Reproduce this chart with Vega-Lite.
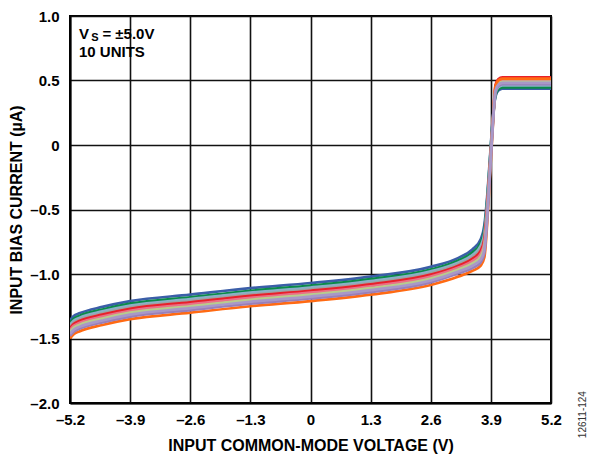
{
  "$schema": "https://vega.github.io/schema/vega-lite/v6.json",
  "width": 481,
  "height": 387,
  "autosize": {"type": "none"},
  "padding": {"left": 70, "top": 16, "right": 43, "bottom": 54},
  "background": "white",
  "config": {
    "view": {"stroke": "black", "strokeWidth": 2},
    "font": "Liberation Sans",
    "axis": {
      "labelFont": "Liberation Sans",
      "labelFontWeight": "bold",
      "labelFontSize": 15,
      "labelColor": "black",
      "titleFont": "Liberation Sans",
      "titleFontWeight": "bold",
      "titleFontSize": 16,
      "titleColor": "black",
      "ticks": false,
      "domainColor": "black",
      "domainWidth": 2,
      "gridColor": "#111111",
      "gridWidth": 1.6,
      "gridOpacity": 1
    }
  },
  "datasets": {
    "curves": [
      {"unit":"U1","v":-5.2,"i":-1.36},{"unit":"U1","v":-5.12,"i":-1.325},{"unit":"U1","v":-5.0,"i":-1.305},{"unit":"U1","v":-4.5,"i":-1.255},{"unit":"U1","v":-3.9,"i":-1.21},{"unit":"U1","v":-2.6,"i":-1.16},{"unit":"U1","v":-1.3,"i":-1.11},{"unit":"U1","v":0,"i":-1.07},{"unit":"U1","v":1.3,"i":-1.02},{"unit":"U1","v":2.6,"i":-0.945},{"unit":"U1","v":3.2,"i":-0.875},{"unit":"U1","v":3.5,"i":-0.81},{"unit":"U1","v":3.68,"i":-0.73},{"unit":"U1","v":3.76,"i":-0.62},{"unit":"U1","v":3.82,"i":-0.40},{"unit":"U1","v":3.88,"i":-0.10},{"unit":"U1","v":3.94,"i":0.20},{"unit":"U1","v":4.0,"i":0.377},{"unit":"U1","v":4.06,"i":0.422},{"unit":"U1","v":4.15,"i":0.437},{"unit":"U1","v":5.2,"i":0.437},
      {"unit":"U2","v":-5.2,"i":-1.38},{"unit":"U2","v":-5.12,"i":-1.347},{"unit":"U2","v":-5.0,"i":-1.325},{"unit":"U2","v":-4.5,"i":-1.275},{"unit":"U2","v":-3.9,"i":-1.23},{"unit":"U2","v":-2.6,"i":-1.18},{"unit":"U2","v":-1.3,"i":-1.13},{"unit":"U2","v":0,"i":-1.09},{"unit":"U2","v":1.3,"i":-1.04},{"unit":"U2","v":2.6,"i":-0.965},{"unit":"U2","v":3.2,"i":-0.895},{"unit":"U2","v":3.5,"i":-0.834},{"unit":"U2","v":3.68,"i":-0.76},{"unit":"U2","v":3.76,"i":-0.656},{"unit":"U2","v":3.82,"i":-0.43},{"unit":"U2","v":3.88,"i":-0.12},{"unit":"U2","v":3.94,"i":0.19},{"unit":"U2","v":4.0,"i":0.387},{"unit":"U2","v":4.06,"i":0.432},{"unit":"U2","v":4.15,"i":0.447},{"unit":"U2","v":5.2,"i":0.447},
      {"unit":"U3","v":-5.2,"i":-1.395},{"unit":"U3","v":-5.12,"i":-1.362},{"unit":"U3","v":-5.0,"i":-1.34},{"unit":"U3","v":-4.5,"i":-1.29},{"unit":"U3","v":-3.9,"i":-1.245},{"unit":"U3","v":-2.6,"i":-1.195},{"unit":"U3","v":-1.3,"i":-1.145},{"unit":"U3","v":0,"i":-1.105},{"unit":"U3","v":1.3,"i":-1.055},{"unit":"U3","v":2.6,"i":-0.98},{"unit":"U3","v":3.2,"i":-0.91},{"unit":"U3","v":3.5,"i":-0.852},{"unit":"U3","v":3.68,"i":-0.782},{"unit":"U3","v":3.76,"i":-0.683},{"unit":"U3","v":3.82,"i":-0.452},{"unit":"U3","v":3.88,"i":-0.135},{"unit":"U3","v":3.94,"i":0.182},{"unit":"U3","v":4.0,"i":0.402},{"unit":"U3","v":4.06,"i":0.447},{"unit":"U3","v":4.15,"i":0.462},{"unit":"U3","v":5.2,"i":0.462},
      {"unit":"U4","v":-5.2,"i":-1.41},{"unit":"U4","v":-5.12,"i":-1.377},{"unit":"U4","v":-5.0,"i":-1.355},{"unit":"U4","v":-4.5,"i":-1.305},{"unit":"U4","v":-3.9,"i":-1.26},{"unit":"U4","v":-2.6,"i":-1.21},{"unit":"U4","v":-1.3,"i":-1.16},{"unit":"U4","v":0,"i":-1.12},{"unit":"U4","v":1.3,"i":-1.07},{"unit":"U4","v":2.6,"i":-0.995},{"unit":"U4","v":3.2,"i":-0.925},{"unit":"U4","v":3.5,"i":-0.87},{"unit":"U4","v":3.68,"i":-0.805},{"unit":"U4","v":3.76,"i":-0.71},{"unit":"U4","v":3.82,"i":-0.475},{"unit":"U4","v":3.88,"i":-0.15},{"unit":"U4","v":3.94,"i":0.175},{"unit":"U4","v":4.0,"i":0.437},{"unit":"U4","v":4.06,"i":0.482},{"unit":"U4","v":4.15,"i":0.497},{"unit":"U4","v":5.2,"i":0.497},
      {"unit":"U5","v":-5.2,"i":-1.42},{"unit":"U5","v":-5.12,"i":-1.387},{"unit":"U5","v":-5.0,"i":-1.365},{"unit":"U5","v":-4.5,"i":-1.315},{"unit":"U5","v":-3.9,"i":-1.27},{"unit":"U5","v":-2.6,"i":-1.22},{"unit":"U5","v":-1.3,"i":-1.17},{"unit":"U5","v":0,"i":-1.13},{"unit":"U5","v":1.3,"i":-1.08},{"unit":"U5","v":2.6,"i":-1.005},{"unit":"U5","v":3.2,"i":-0.935},{"unit":"U5","v":3.5,"i":-0.882},{"unit":"U5","v":3.68,"i":-0.82},{"unit":"U5","v":3.76,"i":-0.728},{"unit":"U5","v":3.82,"i":-0.49},{"unit":"U5","v":3.88,"i":-0.16},{"unit":"U5","v":3.94,"i":0.17},{"unit":"U5","v":4.0,"i":0.465},{"unit":"U5","v":4.06,"i":0.51},{"unit":"U5","v":4.15,"i":0.525},{"unit":"U5","v":5.2,"i":0.525},
      {"unit":"U6","v":-5.2,"i":-1.435},{"unit":"U6","v":-5.12,"i":-1.402},{"unit":"U6","v":-5.0,"i":-1.38},{"unit":"U6","v":-4.5,"i":-1.33},{"unit":"U6","v":-3.9,"i":-1.285},{"unit":"U6","v":-2.6,"i":-1.235},{"unit":"U6","v":-1.3,"i":-1.185},{"unit":"U6","v":0,"i":-1.145},{"unit":"U6","v":1.3,"i":-1.095},{"unit":"U6","v":2.6,"i":-1.02},{"unit":"U6","v":3.2,"i":-0.95},{"unit":"U6","v":3.5,"i":-0.9},{"unit":"U6","v":3.68,"i":-0.843},{"unit":"U6","v":3.76,"i":-0.755},{"unit":"U6","v":3.82,"i":-0.512},{"unit":"U6","v":3.88,"i":-0.175},{"unit":"U6","v":3.94,"i":0.162},{"unit":"U6","v":4.0,"i":0.445},{"unit":"U6","v":4.06,"i":0.49},{"unit":"U6","v":4.15,"i":0.505},{"unit":"U6","v":5.2,"i":0.505},
      {"unit":"U7","v":-5.2,"i":-1.45},{"unit":"U7","v":-5.12,"i":-1.417},{"unit":"U7","v":-5.0,"i":-1.395},{"unit":"U7","v":-4.5,"i":-1.345},{"unit":"U7","v":-3.9,"i":-1.30},{"unit":"U7","v":-2.6,"i":-1.25},{"unit":"U7","v":-1.3,"i":-1.20},{"unit":"U7","v":0,"i":-1.16},{"unit":"U7","v":1.3,"i":-1.11},{"unit":"U7","v":2.6,"i":-1.035},{"unit":"U7","v":3.2,"i":-0.965},{"unit":"U7","v":3.5,"i":-0.918},{"unit":"U7","v":3.68,"i":-0.865},{"unit":"U7","v":3.76,"i":-0.782},{"unit":"U7","v":3.82,"i":-0.535},{"unit":"U7","v":3.88,"i":-0.19},{"unit":"U7","v":3.94,"i":0.155},{"unit":"U7","v":4.0,"i":0.43},{"unit":"U7","v":4.06,"i":0.475},{"unit":"U7","v":4.15,"i":0.49},{"unit":"U7","v":5.2,"i":0.49},
      {"unit":"U10","v":-5.2,"i":-1.50},{"unit":"U10","v":-5.12,"i":-1.467},{"unit":"U10","v":-5.0,"i":-1.445},{"unit":"U10","v":-4.5,"i":-1.395},{"unit":"U10","v":-3.9,"i":-1.35},{"unit":"U10","v":-2.6,"i":-1.30},{"unit":"U10","v":-1.3,"i":-1.25},{"unit":"U10","v":0,"i":-1.21},{"unit":"U10","v":1.3,"i":-1.16},{"unit":"U10","v":2.6,"i":-1.085},{"unit":"U10","v":3.2,"i":-1.02},{"unit":"U10","v":3.5,"i":-0.975},{"unit":"U10","v":3.68,"i":-0.935},{"unit":"U10","v":3.76,"i":-0.87},{"unit":"U10","v":3.82,"i":-0.61},{"unit":"U10","v":3.88,"i":-0.24},{"unit":"U10","v":3.94,"i":0.13},{"unit":"U10","v":4.0,"i":0.455},{"unit":"U10","v":4.06,"i":0.50},{"unit":"U10","v":4.15,"i":0.515},{"unit":"U10","v":5.2,"i":0.515},
      {"unit":"U9","v":-5.2,"i":-1.48},{"unit":"U9","v":-5.12,"i":-1.447},{"unit":"U9","v":-5.0,"i":-1.425},{"unit":"U9","v":-4.5,"i":-1.375},{"unit":"U9","v":-3.9,"i":-1.33},{"unit":"U9","v":-2.6,"i":-1.28},{"unit":"U9","v":-1.3,"i":-1.23},{"unit":"U9","v":0,"i":-1.19},{"unit":"U9","v":1.3,"i":-1.14},{"unit":"U9","v":2.6,"i":-1.065},{"unit":"U9","v":3.2,"i":-0.995},{"unit":"U9","v":3.5,"i":-0.954},{"unit":"U9","v":3.68,"i":-0.91},{"unit":"U9","v":3.76,"i":-0.836},{"unit":"U9","v":3.82,"i":-0.58},{"unit":"U9","v":3.88,"i":-0.22},{"unit":"U9","v":3.94,"i":0.14},{"unit":"U9","v":4.0,"i":0.412},{"unit":"U9","v":4.06,"i":0.457},{"unit":"U9","v":4.15,"i":0.472},{"unit":"U9","v":5.2,"i":0.472},
      {"unit":"U8","v":-5.2,"i":-1.465},{"unit":"U8","v":-5.12,"i":-1.432},{"unit":"U8","v":-5.0,"i":-1.41},{"unit":"U8","v":-4.5,"i":-1.36},{"unit":"U8","v":-3.9,"i":-1.315},{"unit":"U8","v":-2.6,"i":-1.265},{"unit":"U8","v":-1.3,"i":-1.215},{"unit":"U8","v":0,"i":-1.175},{"unit":"U8","v":1.3,"i":-1.125},{"unit":"U8","v":2.6,"i":-1.05},{"unit":"U8","v":3.2,"i":-0.98},{"unit":"U8","v":3.5,"i":-0.936},{"unit":"U8","v":3.68,"i":-0.888},{"unit":"U8","v":3.76,"i":-0.809},{"unit":"U8","v":3.82,"i":-0.557},{"unit":"U8","v":3.88,"i":-0.205},{"unit":"U8","v":3.94,"i":0.147},{"unit":"U8","v":4.0,"i":0.422},{"unit":"U8","v":4.06,"i":0.467},{"unit":"U8","v":4.15,"i":0.482},{"unit":"U8","v":5.2,"i":0.482}
    ],
    "notes": [
      {"v": -5.005, "i": 0.86, "t": "V", "s": 15},
      {"v": -4.74, "i": 0.83, "t": "S", "s": 11},
      {"v": -4.5, "i": 0.86, "t": "= ±5.0V", "s": 15},
      {"v": -5.005, "i": 0.72, "t": "10 UNITS", "s": 15}
    ],
    "code": [
      {"v": 5.9, "i": -2.09, "t": "12611-124"}
    ]
  },
  "layer": [
    {
      "data": {"name": "curves"},
      "mark": {"type": "line", "interpolate": "monotone", "strokeWidth": 2.7, "clip": true},
      "encoding": {
        "x": {
          "field": "v", "type": "quantitative",
          "scale": {"domain": [-5.2, 5.2], "nice": false, "zero": false},
          "axis": {
            "values": [-5.2, -3.9, -2.6, -1.3, 0, 1.3, 2.6, 3.9, 5.2],
            "labelExpr": "datum.value == 0 ? '0' : (datum.value < 0 ? '–' : '') + format(abs(datum.value), '.1f')",
            "labelPadding": 9,
            "labelFlush": false,
            "labelOverlap": false,
            "title": "INPUT COMMON-MODE VOLTAGE (V)",
            "titlePadding": 10
          }
        },
        "y": {
          "field": "i", "type": "quantitative",
          "scale": {"domain": [-2.0, 1.0], "nice": false, "zero": false},
          "axis": {
            "values": [-2.0, -1.5, -1.0, -0.5, 0, 0.5, 1.0],
            "labelExpr": "datum.value == 0 ? '0' : (datum.value < 0 ? '–' : '') + format(abs(datum.value), '.1f')",
            "labelPadding": 11,
            "labelFlush": false,
            "labelOverlap": false,
            "title": "INPUT BIAS CURRENT (µA)",
            "titlePadding": 5
          }
        },
        "color": {
          "field": "unit", "type": "nominal", "legend": null,
          "scale": {
            "domain": ["U1", "U2", "U3", "U4", "U5", "U6", "U7", "U10", "U9", "U8"],
            "range": ["#3b5ea8", "#0a8a4a", "#8ab0c8", "#a0a0a0", "#e8202a", "#ea6f86", "#b8cc8c", "#ff6a13", "#9a7fb8", "#a898c8"]
          }
        }
      }
    },
    {
      "data": {"name": "notes"},
      "mark": {"type": "text", "align": "left", "baseline": "middle", "fontWeight": "bold", "font": "Liberation Sans", "color": "black"},
      "encoding": {
        "x": {"field": "v", "type": "quantitative"},
        "y": {"field": "i", "type": "quantitative"},
        "text": {"field": "t"},
        "size": {"field": "s", "type": "quantitative", "scale": null}
      }
    },
    {
      "data": {"name": "code"},
      "mark": {"type": "text", "align": "center", "baseline": "middle", "angle": 270, "fontSize": 10, "font": "Liberation Sans", "color": "#333333"},
      "encoding": {
        "x": {"field": "v", "type": "quantitative"},
        "y": {"field": "i", "type": "quantitative"},
        "text": {"field": "t"}
      }
    }
  ]
}
